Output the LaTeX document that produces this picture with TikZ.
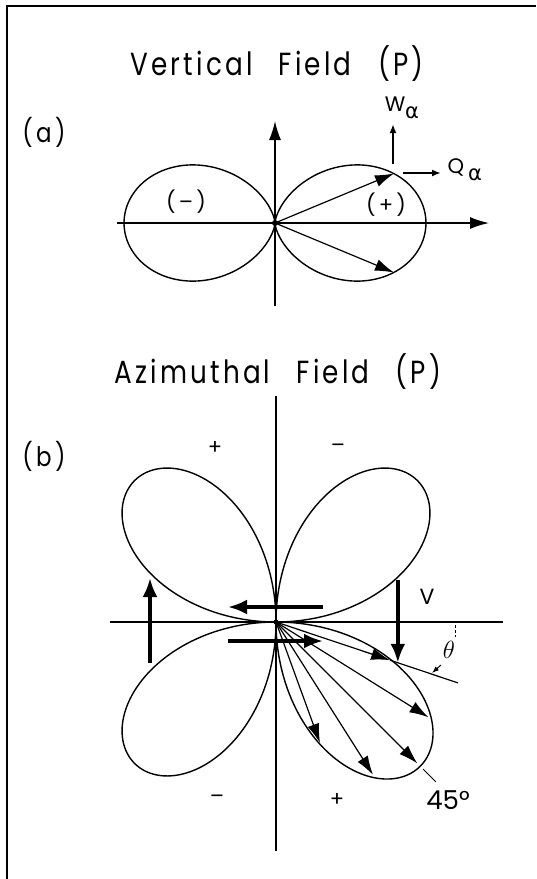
\documentclass[tikz,border=0pt]{standalone}
\usepackage{fontspec}
\setmainfont{Poppins}
\newfontfamily\lett{Poppins}[LetterSpace=12,WordSpace=2.6]
\newfontfamily\lsp{Poppins}[LetterSpace=15]
\newfontfamily\grk{DejaVu Sans}
\usetikzlibrary{arrows.meta}
\begin{document}
\begin{tikzpicture}[x=1pt,y=-1pt,
  lobe/.style={line width=1.4pt},
  axis/.style={line width=1.4pt},
  axarrow/.style={line width=1.4pt,-{Latex[length=19pt,width=12pt]}},
  rad/.style={line width=1.2pt,-{Latex[length=19pt,width=12pt]}},
  thick arrow/.style={line width=3.6pt,-{Latex[length=19pt,width=15pt]}},
  small arrow/.style={line width=2.2pt,-{Latex[length=9pt,width=7pt]}},
  title/.style={font=\lett\fontsize{32}{36}\selectfont, xscale=0.82, inner sep=0pt},
  lab/.style={font=\fontsize{22}{26}\selectfont, inner sep=0pt},
  tag/.style={font=\lsp\fontsize{27}{30}\selectfont, xscale=0.85, inner sep=0pt},
  sign/.style={font=\lsp\fontsize{21}{24}\selectfont, inner sep=0pt}]
\useasboundingbox (0,0) rectangle (536,879);
\fill[white] (0,0) rectangle (536,879);
% frame
\coordinate (fbl) at (7,879);
\coordinate (ftl) at (7,6);
\coordinate (ftr) at (536,6);
\draw[line width=2pt] (fbl) -- (ftl) -- (ftr);

% ---------- (a) ----------
\node[title] (ta) at (277,64) {Vertical Field (P)};
\node[tag] (la) at (44,132) {(a)};
\coordinate (oa) at (275,223);
\coordinate (ha0) at (117,223);
\coordinate (ha1) at (489,223);
\coordinate (va0) at (275,306);
\coordinate (va1) at (275,121);
\draw[axarrow] (ha0) -- (ha1);
\draw[axarrow] (va0) -- (va1);
\draw[lobe] plot[domain=-90:90,samples=150,smooth]
  ({275+151*cos(\x)*cos(\x)*cos(\x)},{223-151*cos(\x)*cos(\x)*sin(\x)});
\draw[lobe] plot[domain=-90:90,samples=150,smooth]
  ({275-151*cos(\x)*cos(\x)*cos(\x)},{223-151*cos(\x)*cos(\x)*sin(\x)});
\fill (oa) circle (3pt);
\coordinate (pa1) at (394,173.5);
\coordinate (pa2) at (394,272.5);
\draw[rad] (oa) -- (pa1);
\draw[rad] (oa) -- (pa2);
\coordinate (w0) at (393,164);
\coordinate (w1) at (393,124);
\coordinate (q0) at (403,173);
\coordinate (q1) at (441,173);
\draw[small arrow] (w0) -- (w1);
\draw[small arrow] (q0) -- (q1);
\node[lab,font=\fontsize{21}{24}\selectfont] (wl) at (395,104.5) {W};
\node[lab,font=\grk\fontsize{21}{22}\selectfont] (wa) at (412,113) {α};
\node[lab,font=\fontsize{21}{24}\selectfont] (ql) at (456,167.5) {Q};
\node[lab,font=\grk\fontsize{21}{22}\selectfont] (qa) at (475,175) {α};
\node[sign] (lm) at (186,202) {(–)};
\node[sign] (lp) at (386,205) {(+)};

% ---------- (b) ----------
\node[title] (tb) at (278,372) {Azimuthal Field (P)};
\node[tag] (lb) at (44,456) {(b)};
\coordinate (ob) at (276,622);
\coordinate (hb0) at (110,622);
\coordinate (hb1) at (503,622);
\coordinate (vb0) at (276,396);
\coordinate (vb1) at (276,851);
\draw[axis] (hb0) -- (hb1);
\draw[axis] (vb0) -- (vb1);
\draw[lobe] plot[domain=90:180,samples=150,smooth]
  ({276+200*abs(sin(2*\x))*cos(\x)},{622-200*abs(sin(2*\x))*sin(\x)});
\draw[lobe] plot[domain=0:90,samples=150,smooth]
  ({276+200*abs(sin(2*\x))*cos(\x)},{622-200*abs(sin(2*\x))*sin(\x)});
\draw[lobe] plot[domain=180:270,samples=150,smooth]
  ({276+200*abs(sin(2*\x))*cos(\x)},{622-200*abs(sin(2*\x))*sin(\x)});
\draw[lobe] plot[domain=270:360,samples=150,smooth]
  ({276+204*abs(sin(2*\x))*cos(\x)},{622-204*abs(sin(2*\x))*sin(\x)});
\fill (ob) circle (2.5pt);
\foreach \a/\n in {18.5/1,32/2,45/3,57.6/4,70/5}{
  \coordinate (rt\n) at ({276+200*sin(2*\a)*cos(\a)},{622+200*sin(2*\a)*sin(\a)});
  \draw[rad] (ob) -- (rt\n);
}
\coordinate (vt) at ({276+128.5*cos(18.5)},{622+128.5*sin(18.5)});
\coordinate (ext) at ({276+192*cos(18.5)},{622+192*sin(18.5)});
\draw[line width=1.2pt] (rt1) -- (ext);
\coordinate (vtop) at ({276+128.5*cos(18.5)},580);
\draw[thick arrow] (vtop) -- (vt);
\node[lab] (lv) at (427,597) {V};
% thick arrows
\coordinate (la0) at (323,607);
\coordinate (la1) at (228,607);
\draw[thick arrow] (la0) -- (la1);
\coordinate (ra0) at (228,641);
\coordinate (ra1) at (323,641);
\draw[thick arrow] (ra0) -- (ra1);
\coordinate (ua0) at (150,663);
\coordinate (ua1) at (150,578);
\draw[thick arrow] (ua0) -- (ua1);
% theta
\coordinate (th0) at (455,625);
\coordinate (th1) at (455,637);
\draw[line width=0.9pt,dash pattern=on 3pt off 2pt] (th0) -- (th1);
\coordinate (tha0) at (441,665);
\coordinate (tha1) at (432,673);
\draw[line width=1pt,-{Latex[length=7pt,width=5pt]}] (tha0) -- (tha1);
\node[lab,font=\fontsize{25}{28}\selectfont] (lth) at (449,650) {$\theta$};
% 45 deg
\coordinate (f0) at ({276+208*cos(45)},{622+208*sin(45)});
\coordinate (f1) at ({276+226*cos(45)},{622+226*sin(45)});
\draw[line width=1pt] (f0) -- (f1);
\node[lab,font=\fontsize{26}{30}\selectfont] (l45) at (448,800) {45°};
% signs
\node[sign] (s1) at (215,448) {+};
\node[sign] (s2) at (338,448) {–};
\node[sign] (s3) at (217,799) {–};
\node[sign] (s4) at (337,800) {+};
\end{tikzpicture}
\end{document}
